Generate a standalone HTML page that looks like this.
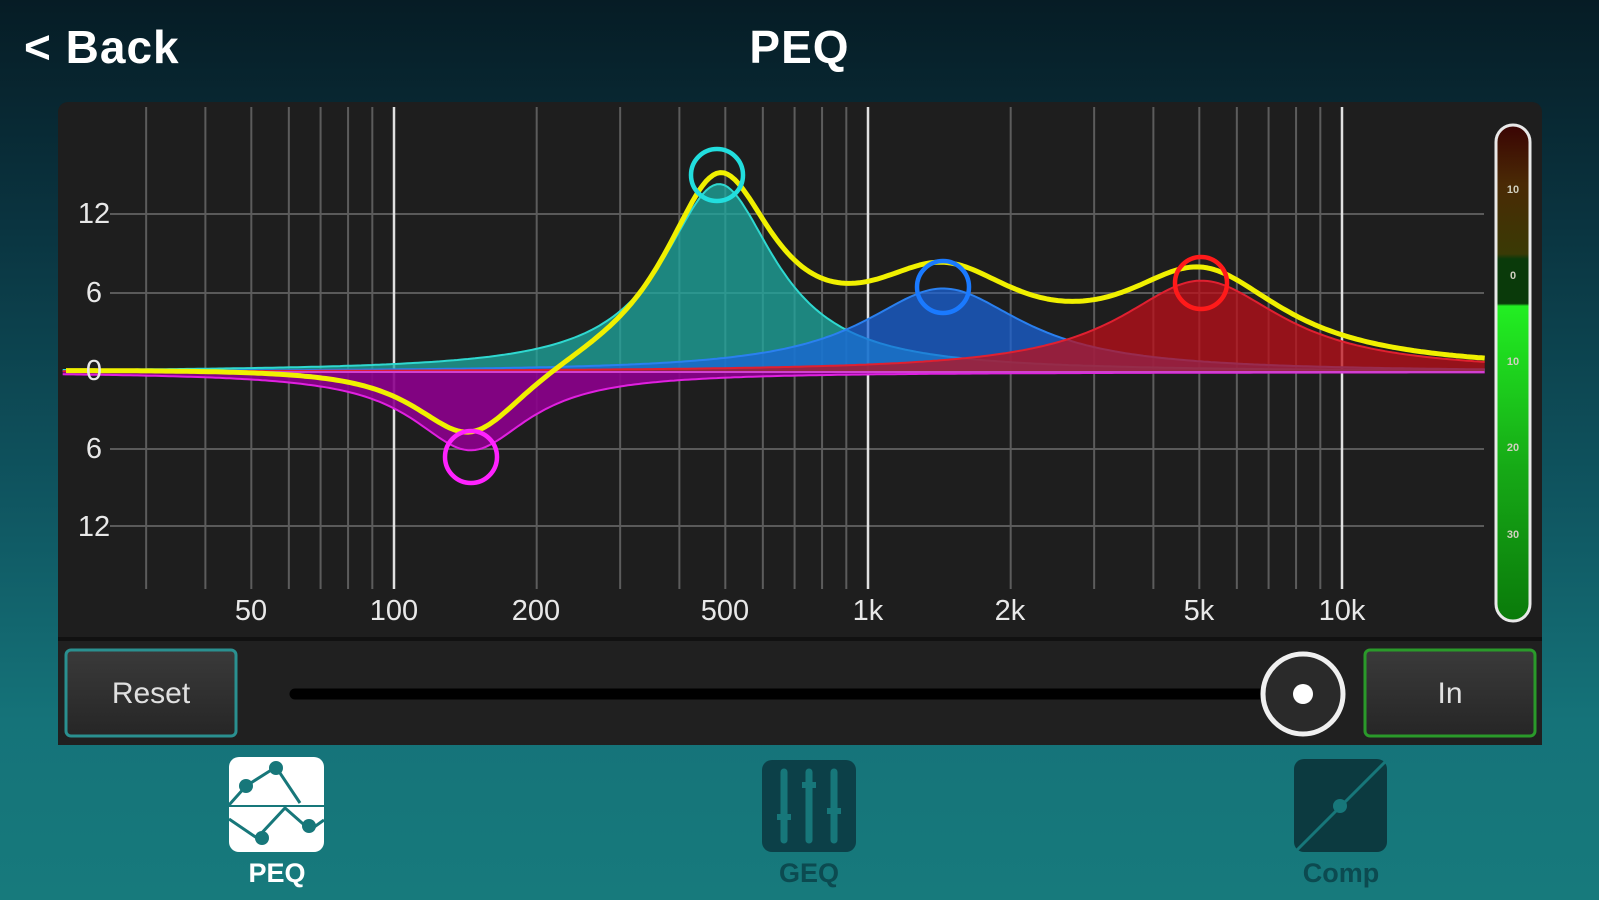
<!DOCTYPE html>
<html><head><meta charset="utf-8"><style>
html,body{margin:0;padding:0;width:1599px;height:900px;overflow:hidden}
body{background:linear-gradient(180deg,#061c25 0%,#0a3440 25%,#0f5560 55%,#157379 80%,#177a7c 100%);font-family:"Liberation Sans",sans-serif;position:relative}
.t{position:absolute;color:#fff;font-weight:bold}
</style></head><body>
<div class="t" style="left:24px;top:20px;font-size:46px;letter-spacing:1px">&lt; Back</div>
<div class="t" style="left:0;width:1599px;text-align:center;top:20px;font-size:46px;letter-spacing:1px">PEQ</div>
<svg id="s" width="1599" height="900" style="position:absolute;left:0;top:0" xmlns="http://www.w3.org/2000/svg">
<defs>
<linearGradient id="mt" x1="0" y1="0" x2="0" y2="1">
<stop offset="0" stop-color="#3a0404"/><stop offset="0.12" stop-color="#4a2a05"/><stop offset="0.26" stop-color="#3a3a05"/><stop offset="0.27" stop-color="#0a3a0a"/><stop offset="0.36" stop-color="#0a3a0a"/><stop offset="0.365" stop-color="#22ee22"/><stop offset="0.7" stop-color="#16a816"/><stop offset="1" stop-color="#0a7a0a"/>
</linearGradient>
<linearGradient id="bt" x1="0" y1="0" x2="0" y2="1"><stop offset="0" stop-color="#3a3a3a"/><stop offset="1" stop-color="#262626"/></linearGradient>
</defs>
<rect x="58" y="102" width="1484" height="643" rx="10" fill="#1e1e1e"/>
<rect x="58" y="637" width="1484" height="4" fill="#111"/>
<rect x="58" y="641" width="1484" height="104" rx="0" fill="#202020"/>
<rect x="58" y="735" width="1484" height="10" rx="10" fill="#202020"/>
<g id="grid"></g>
<g id="curves"></g>
<g font-size="29" fill="#e8e8e8" text-anchor="middle">
<text x="94" y="223">12</text><text x="94" y="302">6</text><text x="94" y="380">0</text><text x="94" y="458">6</text><text x="94" y="536">12</text>
<text x="251" y="620">50</text><text x="394" y="620">100</text><text x="536" y="620">200</text><text x="725" y="620">500</text><text x="868" y="620">1k</text><text x="1010" y="620">2k</text><text x="1199" y="620">5k</text><text x="1342" y="620">10k</text>
</g>
<rect x="1496" y="125" width="34" height="496" rx="17" fill="url(#mt)" stroke="#e8e8e8" stroke-width="3"/>
<g font-size="11" fill="#d0d0c0" text-anchor="middle" font-weight="bold">
<text x="1513" y="193">10</text><text x="1513" y="279">0</text><text x="1513" y="365">10</text><text x="1513" y="451">20</text><text x="1513" y="538">30</text>
</g>
<rect x="66" y="650" width="170" height="86" rx="5" fill="url(#bt)" stroke="#2a9090" stroke-width="3"/>
<text x="151" y="703" font-size="30" fill="#e0e0e0" text-anchor="middle">Reset</text>
<rect x="1365" y="650" width="170" height="86" rx="5" fill="url(#bt)" stroke="#2a9a2a" stroke-width="3"/>
<text x="1450" y="703" font-size="30" fill="#e0e0e0" text-anchor="middle">In</text>
<line x1="295" y1="694" x2="1290" y2="694" stroke="#000" stroke-width="11" stroke-linecap="round"/>
<circle cx="1303" cy="694" r="40" fill="#2a2a2a" stroke="#f0f0f0" stroke-width="5"/>
<circle cx="1303" cy="694" r="10" fill="#fff"/>
<g>
<rect x="229" y="757" width="95" height="95" rx="10" fill="#fff"/>
<polyline points="229,819 257,838 285,808 310,830 324,820" fill="none" stroke="#17777a" stroke-width="3"/>
<polyline points="229,805 246,786 276,767 300,803" fill="none" stroke="#17777a" stroke-width="3"/>
<line x1="229" y1="806" x2="324" y2="806" stroke="#17777a" stroke-width="2"/>
<circle cx="246" cy="786" r="7" fill="#17777a"/><circle cx="276" cy="768" r="7" fill="#17777a"/><circle cx="262" cy="838" r="7" fill="#17777a"/><circle cx="309" cy="826" r="7" fill="#17777a"/>
<text x="277" y="882" font-size="27" fill="#fff" text-anchor="middle" font-weight="bold">PEQ</text>
<rect x="762" y="760" width="94" height="92" rx="10" fill="#0c4048"/>
<g stroke="#17777a" stroke-width="7" stroke-linecap="round"><line x1="784" y1="772" x2="784" y2="840"/><line x1="809" y1="772" x2="809" y2="840"/><line x1="834" y1="772" x2="834" y2="840"/></g>
<g fill="#17777a"><rect x="777" y="814" width="14" height="6"/><rect x="802" y="782" width="14" height="6"/><rect x="827" y="808" width="14" height="6"/></g>
<text x="809" y="882" font-size="27" fill="#0c4a50" text-anchor="middle" font-weight="bold">GEQ</text>
<rect x="1294" y="759" width="93" height="93" rx="10" fill="#0c3a40"/>
<line x1="1297" y1="850" x2="1385" y2="762" stroke="#17777a" stroke-width="3"/>
<circle cx="1340" cy="806" r="7" fill="#17777a"/>
<text x="1341" y="882" font-size="27" fill="#0c4a50" text-anchor="middle" font-weight="bold">Comp</text>
</g>
</svg>
<script>
var NS="http://www.w3.org/2000/svg";
function el(p,t,a){var e=document.createElementNS(NS,t);for(var k in a)e.setAttribute(k,a[k]);p.appendChild(e);return e;}
var g=document.getElementById("grid");
function X(f){return 394+474*Math.log10(f/100);}
var ys=[214,293,372,449,526];
ys.forEach(function(y){el(g,"line",{x1:110,y1:y,x2:1484,y2:y,stroke:"#5a5a5a","stroke-width":2});});
[30,40,50,60,70,80,90,100,200,300,400,500,600,700,800,900,1000,2000,3000,4000,5000,6000,7000,8000,9000,10000].forEach(function(f){
 var b=(f==100||f==1000||f==10000);
 el(g,"line",{x1:X(f),y1:107,x2:X(f),y2:589,stroke:b?"#e0e0e0":"#5c5c5c","stroke-width":b?2.5:2});
});
var bands=[
 {f:485,G:14.4,w:0.48,fill:"rgba(30,170,160,0.75)",st:"#2fd8d0",cx:717,cy:175,cc:"#22dede"},
 {f:1440,G:6.4,w:0.69,fill:"rgba(25,100,220,0.72)",st:"#2a80f0",cx:943,cy:287,cc:"#1a7aff"},
 {f:5050,G:7,w:0.7,fill:"rgba(190,15,25,0.75)",st:"#e02030",cx:1201,cy:283,cc:"#ff1a1a"},
 {f:145,G:-6,w:0.5,fill:"rgba(140,0,140,0.9)",st:"#e020e0",cx:471,cy:457,cc:"#ff22ff"}
];
var dbpx=13.05,y0=372;
function resp(b,f){var x=Math.log2(f/b.f)/b.w;return b.G/(1+x*x);}
var c=document.getElementById("curves");
var fs=[];for(var i=0;i<=400;i++){fs.push(20*Math.pow(1000,i/400));}
bands.forEach(function(b){
 var d="M"+X(20).toFixed(1)+","+y0,l="";
 fs.forEach(function(f,i){var p=X(f).toFixed(1)+","+(y0-resp(b,f)*dbpx).toFixed(1);d+=" L"+p;l+=(i?" L":"M")+p;});
 d+=" L"+X(20000).toFixed(1)+","+y0+" Z";
 el(c,"path",{d:d,fill:b.fill});
 el(c,"path",{d:l,fill:"none",stroke:b.st,"stroke-width":2});
});
el(c,"line",{x1:66,y1:y0,x2:1484,y2:y0,stroke:"#d040d0","stroke-width":2});
var d="";fs.forEach(function(f,i){var s=0;bands.forEach(function(b){s+=resp(b,f);});d+=(i?" L":"M")+(i==0?66:X(f)).toFixed(1)+","+(y0-s*dbpx).toFixed(1);});
el(c,"path",{d:d,fill:"none",stroke:"#f0f000","stroke-width":5,"stroke-linejoin":"round"});
bands.forEach(function(b){el(c,"circle",{cx:b.cx,cy:b.cy,r:26,fill:"none",stroke:b.cc,"stroke-width":4.5});});
</script>
</body></html>
